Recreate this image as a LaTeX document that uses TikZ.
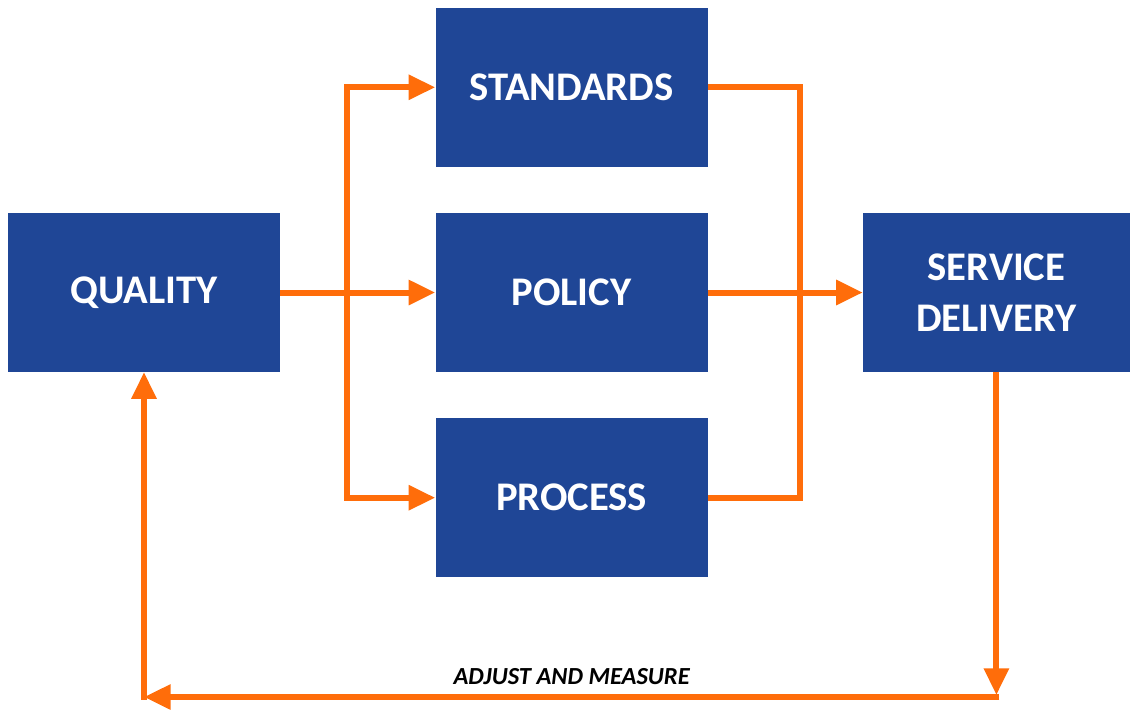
\documentclass[tikz,border=0pt]{standalone}
\usepackage{fontspec}
\setmainfont{Carlito}
\usepackage{xcolor}
\usetikzlibrary{positioning,arrows.meta,calc}
\definecolor{boxblue}{HTML}{1F4696}
\definecolor{flowor}{HTML}{FF6D0A}

\begin{document}
\begin{tikzpicture}[x=0.75pt,y=-0.75pt,
  font=\bfseries\fontsize{30.5}{38}\selectfont,
  blk/.style={fill=boxblue,text=white,align=center,inner sep=0pt,
              minimum width=204pt,minimum height=119pt},
  line/.style={draw=flowor,line width=4.5pt},
  flow/.style={line,-{Triangle[length=20pt,width=18pt]}}]
\useasboundingbox (0,0) rectangle (1130,715);
% boxes
\node[blk] (qual) at (144,292.5) {QUALITY};
\node[blk,right=116.25pt of qual] (pol) {POLICY};
\node[blk,above=34.5pt of pol] (std) {STANDARDS};
\node[blk,below=34.5pt of pol] (proc) {PROCESS};
\node[blk,minimum width=200pt,right=116.25pt of pol] (serv) {SERVICE\\DELIVERY};
% split and merge lines
\coordinate (lbus) at ($(qual.east)!0.43!(pol.west)$);
\coordinate (rbus) at ($(pol.east)!0.595!(serv.west)$);
\coordinate (loop) at (0,697);
\draw[flow] (qual) -- (pol);
\draw[flow] (lbus) |- (std);
\draw[flow] (lbus) |- (proc);
\draw[line] (std) -| (rbus);
\draw[line] (proc) -| (rbus);
\draw[flow] (pol) -- (serv);
% feedback loop
\draw[flow] (serv.south) -- ([yshift=1.5pt]serv.south |- loop);
\draw[flow] ([xshift=2.2pt]serv.south |- loop) -- node[above=4pt,text=black,font=\bfseries\itshape\fontsize{18.4}{22}\selectfont]{ADJUST AND MEASURE} (qual.south |- loop);
\draw[flow] ([yshift=-2.2pt]qual.south |- loop) -- (qual.south);
\end{tikzpicture}
\end{document}
